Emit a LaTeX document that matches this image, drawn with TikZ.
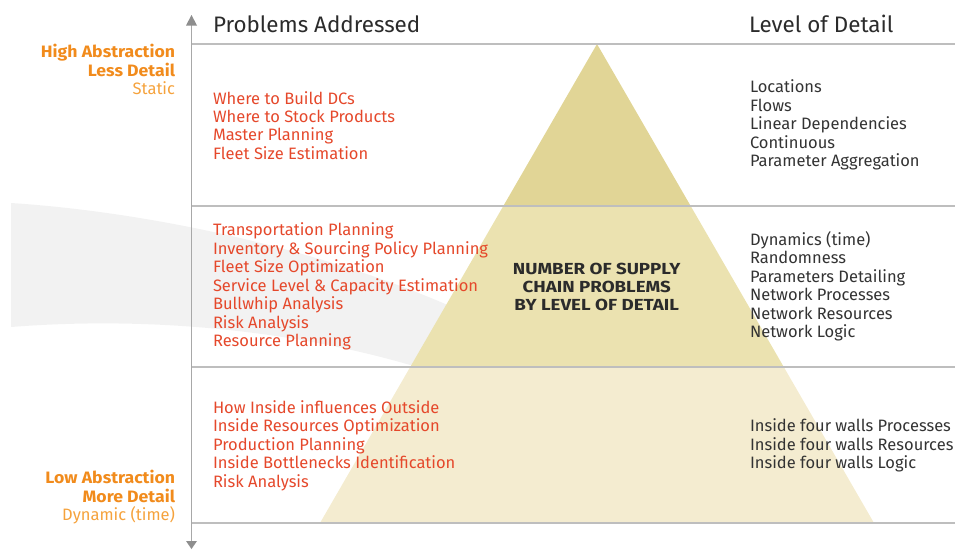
\documentclass[tikz,border=0pt]{standalone}
\usepackage{fontspec}
\setmainfont{Fira Sans}
\definecolor{redc}{HTML}{E5482B}
\definecolor{orgbold}{HTML}{F18B1C}
\definecolor{orglight}{HTML}{F5A23C}
\definecolor{darkc}{HTML}{333333}
\definecolor{headc}{HTML}{2B2B2B}
\definecolor{bandc}{HTML}{F2F2F2}
\definecolor{tritop}{HTML}{E1D596}
\definecolor{trimid}{HTML}{EBE2B0}
\definecolor{tribot}{HTML}{F4ECD0}
\definecolor{linec}{HTML}{BEBEBE}
\definecolor{axisc}{HTML}{A8A8A8}
\definecolor{tipc}{HTML}{8E8E8E}
\begin{document}
\begin{tikzpicture}[x=1pt,y=-1pt,
  every node/.style={inner sep=0pt,outer sep=0pt},
  redtxt/.style={text=redc,font=\fontsize{16.5}{18}\selectfont,anchor=base west},
  darktxt/.style={text=darkc,font=\fontsize{16.5}{18}\selectfont,anchor=base west},
  headtxt/.style={text=headc,font=\fontsize{22.4}{24}\selectfont,anchor=base west},
  lvlbold/.style={text=orgbold,font=\bfseries\fontsize{16.5}{18}\selectfont\addfontfeatures{FakeStretch=1.07},anchor=base east},
  lvllight/.style={text=orglight,font=\fontsize{16.5}{18}\selectfont,anchor=base east},
  centertxt/.style={text=headc,font=\bfseries\fontsize{16}{18}\selectfont\addfontfeatures{FakeStretch=1.17},anchor=base},
  hline/.style={draw=linec,line width=1.6pt},
  axisline/.style={draw=axisc,line width=1.4pt}]
\useasboundingbox (0,0) rectangle (955,549);
% background swoosh
\fill[bandc] (11,203) .. controls (150,212) and (330,250) .. (470,315)
  -- (430,371) .. controls (300,330) and (150,316) .. (11,327) -- cycle;
% pyramid
\begin{scope}
  \clip (597,44) -- (320,523) -- (874,523) -- cycle;
  \fill[tritop] (300,40) rectangle (900,206);
  \fill[trimid] (300,206) rectangle (900,367);
  \fill[tribot] (300,367) rectangle (900,523);
\end{scope}
% horizontal rules
\foreach \yy in {44,206,367,523} {\draw[hline] (191.5,\yy) -- (955,\yy);}
% axis
\draw[axisline] (191.5,24) -- (191.5,542);
\fill[tipc] (191.5,15) -- (186,25.5) -- (197,25.5) -- cycle;
\fill[tipc] (191.5,549) -- (186,541) -- (197,541) -- cycle;
% headers
\node[headtxt] (hprob) at (213,32.3) {Problems Addressed};
\node[headtxt] (hlvl) at (749,32.3) {Level of Detail};
% left labels
\node[lvlbold] (hiabs) at (175,57.3) {High Abstraction};
\node[lvlbold] (lessd) at (175,76.1) {Less Detail};
\node[lvllight] (stat) at (175,94.9) {Static};
\node[lvlbold] (loabs) at (175,483.8) {Low Abstraction};
\node[lvlbold] (mored) at (175,502.3) {More Detail};
\node[lvllight] (dyn) at (175,520.6) {Dynamic (time)};
% problems
\foreach \t [count=\i] in {{Where to Build DCs},{Where to Stock Products},{Master Planning},{Fleet Size Estimation}}
  {\node[redtxt] (pa\i) at (213,104+18.45*\i-18.45) {\t};}
\foreach \t [count=\i] in {{Transportation Planning},{Inventory \& Sourcing Policy Planning},{Fleet Size Optimization},{Service Level \& Capacity Estimation},{Bullwhip Analysis},{Risk Analysis},{Resource Planning}}
  {\node[redtxt] (pb\i) at (213,235.7+18.5*\i-18.5) {\t};}
\foreach \t [count=\i] in {{How Inside influences Outside},{Inside Resources Optimization},{Production Planning},{Inside Bottlenecks Identification},{Risk Analysis}}
  {\node[redtxt] (pc\i) at (213,413.3+18.5*\i-18.5) {\t};}
% level of detail
\foreach \t [count=\i] in {{Locations},{Flows},{Linear Dependencies},{Continuous},{Parameter Aggregation}}
  {\node[darktxt] (la\i) at (750,92.7+18.5*\i-18.5) {\t};}
\foreach \t [count=\i] in {{Dynamics (time)},{Randomness},{Parameters Detailing},{Network Processes},{Network Resources},{Network Logic}}
  {\node[darktxt] (lb\i) at (750,245+18.5*\i-18.5) {\t};}
\foreach \t [count=\i] in {{Inside four walls Processes},{Inside four walls Resources},{Inside four walls Logic}}
  {\node[darktxt] (lc\i) at (750,431.5+18.5*\i-18.5) {\t};}
% center caption
\node[centertxt] (c1) at (596.7,274) {NUMBER OF SUPPLY};
\node[centertxt] (c2) at (596.7,292.3) {CHAIN PROBLEMS};
\node[centertxt] (c3) at (596.7,310.7) {BY LEVEL OF DETAIL};
\end{tikzpicture}
\end{document}
